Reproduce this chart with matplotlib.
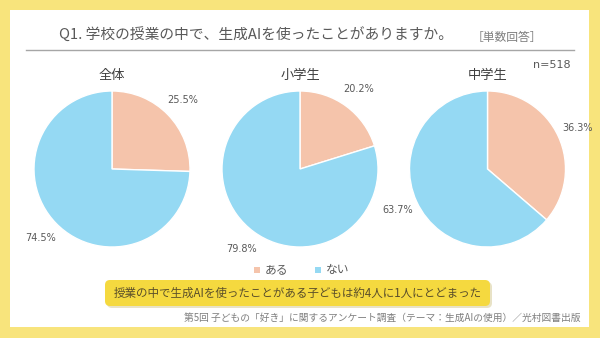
import matplotlib.pyplot as plt
from matplotlib.patches import FancyBboxPatch, Rectangle

plt.rcParams["font.family"] = ["Noto Sans CJK JP", "DejaVu Sans"]

groups = ["全体", "小学生", "中学生"]
yes_pct = [25.5, 20.2, 36.3]
no_pct = [74.5, 79.8, 63.7]
answers = ["ある", "ない"]
colors = ["#F5C4AB", "#95D9F3"]

title = "Q1. 学校の授業の中で、生成AIを使ったことがありますか。"
note = "［単数回答］"
sample = "n=518"
summary = "授業の中で生成AIを使ったことがある子どもは約4人に1人にとどまった"
source = "第5回 子どもの「好き」に関するアンケート調査（テーマ：生成AIの使用）／光村図書出版"

W, H = 600, 338
fig = plt.figure(figsize=(W / 100, H / 100), dpi=100)
fig.patch.set_facecolor("#F8E47C")

# pixel-based overlay for background, text and boxes
bg = fig.add_axes([0, 0, 1, 1])
bg.set_xlim(0, W)
bg.set_ylim(H, 0)
bg.axis("off")
bg.add_patch(Rectangle((10, 10), 579, 317, facecolor="white", edgecolor="none"))

bg.text(256, 35, title, ha="center", va="center", fontsize=10.6, color="#595959")
bg.text(507, 37, note, ha="center", va="center", fontsize=8.5, color="#7F7F7F")
bg.plot([26, 574], [50, 50], color="#A6A6A6", linewidth=1)
bg.text(552, 65, sample, ha="center", va="center", fontsize=8,
        family="DejaVu Sans", color="#595959")

# pies
centers = [112, 300, 487.5]
radius = 78
cy = 169
for cx, grp, y, n in zip(centers, groups, yes_pct, no_pct):
    ax = fig.add_axes([(cx - radius) / W, (H - cy - radius) / H,
                       2 * radius / W, 2 * radius / H])
    ax.pie([y, n], colors=colors, startangle=90, counterclock=False,
           autopct="%.1f%%", pctdistance=1.27,
           wedgeprops=dict(edgecolor="white", linewidth=1),
           textprops=dict(fontsize=7, color="#595959", family="DejaVu Sans"))
    ax.set_xlim(-1, 1)
    ax.set_ylim(-1, 1)
    ax.set_aspect("equal")
    bg.text(cx, 75, grp, ha="center", va="center", fontsize=9.5, color="#404040")

# legend
for x, lab, c in zip([257, 318], answers, colors):
    bg.add_patch(Rectangle((x - 3, 267), 6, 6, facecolor=c, edgecolor="none"))
    bg.text(x + 8, 270, lab, ha="left", va="center", fontsize=8.5, color="#595959")

# summary box
bg.add_patch(FancyBboxPatch((107, 282), 385, 26, boxstyle="round,pad=0,rounding_size=5",
                            facecolor="#D9CFA0", edgecolor="none", alpha=0.6))
bg.add_patch(FancyBboxPatch((105, 280), 385, 26, boxstyle="round,pad=0,rounding_size=5",
                            facecolor="#F5D93F", edgecolor="none"))
bg.text(298, 293, summary, ha="center", va="center", fontsize=8.3, color="#5A4E2A")

bg.text(580, 318, source, ha="right", va="center", fontsize=7, color="#7F7F7F")

fig.savefig("out.png", dpi=100, facecolor=fig.get_facecolor())
